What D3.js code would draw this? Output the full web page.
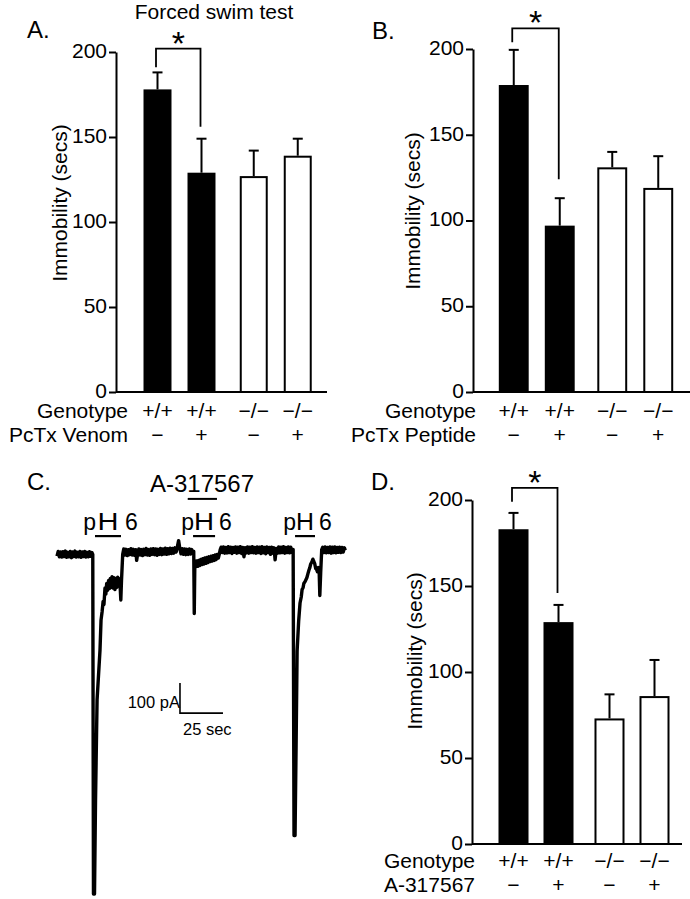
<!DOCTYPE html>
<html><head><meta charset="utf-8">
<script src="https://cdn.jsdelivr.net/npm/d3@7"></script>
<style>
body{margin:0;background:#fff}
svg{display:block}
text{font-family:"Liberation Sans",Arial,Helvetica,sans-serif;fill:#000}
</style>
</head><body>
<svg id="c" width="690" height="899"></svg>
<script>
// ---------------- DATA ----------------
const genotypes = ["+/+", "\u2212/\u2212"];
const treatments = ["\u2212", "+"];
const yTicks = [0, 50, 100, 150, 200];

// Panel A: PcTx venom (immobility, secs)
const venomMeans = [178, 129, 127, 139];
const venomSEM   = [10, 20, 15, 10];
const venomBracket = {top: 202, leftEnd: 191, rightEnd: 156};

// Panel B: PcTx peptide
const peptideMeans = [179, 97, 131, 119];
const peptideSEM   = [20.5, 16, 9, 18.5];
const peptideBracket = {top: 212, leftEnd: 204, rightEnd: 124};

// Panel D: A-317567
const aMeans = [183, 129, 73, 86];
const aSEM   = [9.5, 10, 14, 21];
const aBracket = {top: 207, leftEnd: 199, rightEnd: 146};

// Panel C: current trace [time (s), current (pA)]
const traceBase1 = [[0,-14],[0.7,2],[1.4,-16],[2.1,0],[2.8,-17],[3.5,1],[4.2,-15],[4.9,3],[5.6,-18],[6.3,-1],[7,-16],[7.7,2],[8.4,-19],[9.1,0],[9.8,-15],[10.5,3],[11.2,-17],[11.9,-1],[12.6,-16],[13.3,2],[14,-18],[14.7,0],[15.4,-15],[16.1,2],[16.8,-17],[17.5,-1],[18.2,-16],[18.9,1],[19.6,-14],[20.3,-2],[20.8,-8]];
const traceResp1 = [[21.2,-1140],[21.8,-1140],[22.4,-827],[23.3,-493],[25,-327],[25.6,-227],[26.2,-200],[26.8,-165],[27.3,-175],[27.9,-120],[28.4,-140],[28.9,-105],[29.4,-128],[30,-95],[30.5,-122],[31,-88],[31.5,-118],[32,-82],[32.6,-120],[33.1,-86],[33.7,-125],[34.2,-88],[34.8,-118],[35.3,-84],[35.9,-112],[36.5,-90],[37.1,-160],[37.5,-95],[38.2,-8]];
const traceBase2 = [[38.8,10],[39.5,-10],[40.2,9],[40.9,-12],[41.6,8],[42.3,-9],[43,11],[43.7,-10],[44.4,9],[45.1,-11],[45.8,8],[46.3,-28],[46.9,-6],[47.6,10],[48.3,-10],[49,8],[49.7,-12],[50.4,9],[51.1,-9],[51.8,12],[52.5,-10],[53.2,8],[53.9,-11],[54.6,10],[55.3,-8],[56,11],[56.7,-9],[57.4,10],[58.1,-11],[58.8,9],[59.5,-8],[60.2,12],[60.9,-9],[61.6,10],[62.3,-7],[63,13],[63.7,-8],[64.4,11],[65.1,-6],[65.8,13],[66.5,-5],[67.2,12],[67.9,-4],[68.6,14],[69.3,0],[70,18],[70.7,38],[71.4,12],[72.1,-6],[72.8,11],[73.5,-8],[74.2,10],[74.9,-9],[75.6,9],[76.3,-8],[77,10],[77.7,-7],[78.4,8],[79.1,-6],[79.5,2]];
const traceResp2 = [[79.8,-205],[80.1,-55],[80.6,-45],[81.2,-30],[81.8,-48],[82.4,-28],[83,-45],[83.6,-25],[84.2,-42],[84.8,-22],[85.4,-40],[86,-20],[86.6,-38],[87.2,-18],[87.8,-35],[88.4,-16],[89,-32],[89.6,-14],[90.2,-30],[90.8,-12],[91.4,-28],[92,-10],[92.6,-25],[93.2,-8],[93.8,-20],[94.4,-6],[94.9,8]];
const traceBase3 = [[95.4,16],[96.1,-2],[96.8,17],[97.5,-4],[98.2,15],[98.9,-3],[99.6,18],[100.3,-2],[101,16],[101.7,-5],[102.4,15],[103.1,-1],[103.8,17],[104.5,-4],[105.2,16],[105.9,-2],[106.6,18],[107.3,-5],[108,15],[108.7,-16],[109.4,14],[110.1,-3],[110.8,17],[111.5,-4],[112.2,16],[112.9,-2],[113.6,18],[114.3,-3],[115,15],[115.7,-4],[116.4,17],[117.1,-2],[117.8,16],[118.5,-5],[119.2,18],[119.9,-3],[120.6,15],[121.3,-6],[122,17],[122.7,-2],[123.4,15],[124.1,-8],[124.8,16],[125.5,-4],[126.2,14],[126.8,-26],[127.5,12],[128.2,-4],[128.9,17],[129.6,-3],[130.3,16],[131,-2],[131.7,18],[132.4,-4],[133.1,15],[133.8,-2],[134.5,17],[135.2,-3],[135.9,16],[136.6,-1],[137.3,8]];
const traceResp3 = [[137.8,-945],[138.4,-945],[139,-650],[139.6,-330],[140.5,-230],[141.3,-170],[142,-150],[142.5,-125],[143.1,-118],[143.5,-105],[144.3,-98],[145.3,-85],[145.9,-72],[146.5,-60],[147,-52],[147.5,-40],[148.2,-33],[148.8,-24],[149.3,-32],[149.8,-38],[150.4,-55],[150.9,-58],[151.4,-66],[152,-52],[152.4,-60],[152.8,-145],[153.3,-70],[153.9,8]];
const traceBase4 = [[154.5,16],[155.2,-2],[155.9,17],[156.6,-3],[157.3,15],[158,-2],[158.7,17],[159.4,-4],[160.1,16],[160.8,-2],[161.5,17],[162.2,-3],[162.9,15],[163.6,-1],[164.3,16],[165,-2],[165.7,15],[166.4,0],[167.1,14],[167.6,6]];
const stimBars = [[22.1, 37.2], [79.1, 91.9], [138.4, 150]];   // pH 6 application (s)
const drugBar = [76, 93];                                        // A-317567 application (s)
const scaleBarPA = 100, scaleBarSec = 25;
const scaleBarCorner = [71.5, -537];

// ---------------- DRAW ----------------
const svg = d3.select("#c");
const FONT = 21;

function barPanel(cfg, means, sems, treatLabel, bracket) {
  const g = svg.append("g");
  const y = d3.scaleLinear().domain([0, 200]).range([cfg.yBottom, cfg.yTop]);
  const outer = d3.scaleBand().domain(genotypes).range(cfg.bandRange)
      .paddingInner(cfg.outerPad).paddingOuter(0);
  const inner = d3.scaleBand().domain(treatments).range([0, outer.bandwidth()])
      .paddingInner(cfg.innerPad).paddingOuter(cfg.innerPad / 2);
  const bw = inner.bandwidth();
  const bars = [];
  genotypes.forEach((gt, i) => treatments.forEach((tr, j) => {
    const k = i * 2 + j;
    bars.push({gt, tr, mean: means[k], sem: sems[k], x: outer(gt) + inner(tr)});
  }));

  // error bars
  bars.forEach(b => {
    const cx = b.x + bw / 2;
    g.append("line").attr("x1", cx).attr("x2", cx)
      .attr("y1", y(b.mean)).attr("y2", y(b.mean + b.sem))
      .attr("stroke", "#000").attr("stroke-width", 2);
    g.append("line").attr("x1", cx - 5).attr("x2", cx + 5)
      .attr("y1", y(b.mean + b.sem)).attr("y2", y(b.mean + b.sem))
      .attr("stroke", "#000").attr("stroke-width", 2);
  });
  // bars
  g.selectAll("rect.bar").data(bars).join("rect")
    .attr("x", d => d.gt === genotypes[0] ? d.x : d.x + 1)
    .attr("y", d => d.gt === genotypes[0] ? y(d.mean) : y(d.mean) + 1)
    .attr("width", d => d.gt === genotypes[0] ? bw : bw - 2)
    .attr("height", d => d.gt === genotypes[0] ? y(0) - y(d.mean) : y(0) - y(d.mean) - 1)
    .attr("fill", d => d.gt === genotypes[0] ? "#000" : "#fff")
    .attr("stroke", "#000")
    .attr("stroke-width", d => d.gt === genotypes[0] ? 0 : 2);

  // y axis
  const ax = g.append("g").attr("transform", `translate(${cfg.axisX},0)`)
    .call(d3.axisLeft(y).tickValues(yTicks).tickSize(7).tickSizeOuter(0).tickPadding(2));
  ax.selectAll("path,line").attr("stroke", "#000").attr("stroke-width", 2);
  ax.selectAll("text").attr("font-size", FONT).attr("fill", "#000").attr("dy", "0.26em")
    .attr("font-family", '"Liberation Sans",Arial,sans-serif');
  // x axis baseline
  g.append("line").attr("x1", cfg.axisX).attr("x2", cfg.xEnd)
    .attr("y1", y(0)).attr("y2", y(0)).attr("stroke", "#000").attr("stroke-width", 2);

  // y label
  g.append("text").attr("transform", `translate(${cfg.yLabX},${cfg.yLabY}) rotate(-90)`)
    .attr("text-anchor", "middle").attr("font-size", FONT).text("Immobility (secs)");

  // row labels
  g.append("text").attr("x", cfg.labelRight).attr("y", cfg.row1)
    .attr("text-anchor", "end").attr("font-size", FONT).text("Genotype");
  g.append("text").attr("x", cfg.labelRight).attr("y", cfg.row2)
    .attr("text-anchor", "end").attr("font-size", FONT).text(treatLabel);
  bars.forEach(b => {
    const cx = b.x + bw / 2;
    g.append("text").attr("x", cx).attr("y", cfg.row1).attr("text-anchor", "middle")
      .attr("font-size", FONT).text(b.gt);
    g.append("text").attr("x", cx).attr("y", cfg.row2).attr("text-anchor", "middle")
      .attr("font-size", FONT).text(b.tr);
  });

  // significance bracket
  const x1 = bars[0].x + bw / 2 - 1.5, x2 = bars[1].x + bw / 2 - 1;
  g.append("path")
    .attr("d", `M${x1},${y(bracket.leftEnd)}V${y(bracket.top)}H${x2}V${y(bracket.rightEnd)}`)
    .attr("fill", "none").attr("stroke", "#000").attr("stroke-width", 1.8);
  g.append("text").attr("x", (x1 + x2) / 2).attr("y", y(bracket.top) + 6)
    .attr("text-anchor", "middle").attr("font-size", 34).text("*");

  // panel letter
  g.append("text").attr("x", cfg.letterX).attr("y", cfg.letterY)
    .attr("font-size", 24).text(cfg.letter);
}

barPanel({letter: "A.", letterX: 27, letterY: 38, axisX: 116, yBottom: 392, yTop: 52, xEnd: 327,
  bandRange: [135.5, 319.75], outerPad: 0.0857, innerPad: 0.364,
  labelRight: 128, row1: 418, row2: 442, yLabX: 67, yLabY: 203},
  venomMeans, venomSEM, "PcTx Venom", venomBracket);

barPanel({letter: "B.", letterX: 372, letterY: 39, axisX: 473, yBottom: 392, yTop: 49, xEnd: 690,
  bandRange: [490.75, 681.25], outerPad: 0.066, innerPad: 0.35,
  labelRight: 476, row1: 418, row2: 442, yLabX: 420, yLabY: 211},
  peptideMeans, peptideSEM, "PcTx Peptide", peptideBracket);

barPanel({letter: "D.", letterX: 371, letterY: 490, axisX: 472, yBottom: 844, yTop: 500, xEnd: 682,
  bandRange: [491, 677], outerPad: 0.0625, innerPad: 0.333,
  labelRight: 475, row1: 868, row2: 892, yLabX: 422, yLabY: 651},
  aMeans, aSEM, "A-317567", aBracket);

svg.append("text").attr("x", 214).attr("y", 19).attr("text-anchor", "middle")
  .attr("font-size", FONT).text("Forced swim test");

// ---- Panel C ----
const gc = svg.append("g");
const xC = d3.scaleLinear().domain([0, 170]).range([57, 57 + 170 * 1.72]);
const yC = d3.scaleLinear().domain([0, -1000]).range([552, 852]);
const trace = [].concat(traceBase1, traceResp1, traceBase2, traceResp2, traceBase3, traceResp3, traceBase4);
gc.append("path").datum(trace)
  .attr("d", d3.line().x(d => xC(d[0])).y(d => yC(d[1])))
  .attr("fill", "none").attr("stroke", "#000").attr("stroke-width", 3.4)
  .attr("stroke-linejoin", "round");

// stimulus bars + pH labels
const stimLevel = 53, drugLevel = 177;
stimBars.forEach(s => {
  const xa = xC(s[0]), xb = xC(s[1]), yy = yC(stimLevel);
  gc.append("line").attr("x1", xa).attr("x2", xb).attr("y1", yy).attr("y2", yy)
    .attr("stroke", "#000").attr("stroke-width", 2.2);
  gc.append("text").attr("x", xa + 1).attr("y", yy - 6).attr("text-anchor", "end")
    .attr("font-size", 23).text("p");
  gc.append("text").attr("x", (xa + xb) / 2).attr("y", yy - 6).attr("text-anchor", "middle")
    .attr("font-size", 23).attr("textLength", Math.min(21, xb - xa - 2))
    .attr("lengthAdjust", "spacingAndGlyphs").text("H");
  gc.append("text").attr("x", xb + 4).attr("y", yy - 6).attr("text-anchor", "start")
    .attr("font-size", 23).text("6");
});
// drug bar
gc.append("line").attr("x1", xC(drugBar[0])).attr("x2", xC(drugBar[1]))
  .attr("y1", yC(drugLevel)).attr("y2", yC(drugLevel))
  .attr("stroke", "#000").attr("stroke-width", 2);
gc.append("text").attr("x", 202).attr("y", yC(drugLevel) - 7).attr("text-anchor", "middle")
  .attr("font-size", 24).text("A-317567");

// scale bar
const sx = xC(scaleBarCorner[0]), sy = yC(scaleBarCorner[1]);
gc.append("path")
  .attr("d", `M${sx},${yC(scaleBarCorner[1] + scaleBarPA)}V${sy}H${xC(scaleBarCorner[0] + scaleBarSec)}`)
  .attr("fill", "none").attr("stroke", "#000").attr("stroke-width", 1.6);
gc.append("text").attr("x", sx).attr("y", sy - 5).attr("text-anchor", "end")
  .attr("font-size", 16.5).text("100 pA");
gc.append("text").attr("x", sx + 3).attr("y", sy + 22).attr("font-size", 16.5).text("25 sec");

gc.append("text").attr("x", 27).attr("y", 490).attr("font-size", 24).text("C.");
</script>
</body></html>
